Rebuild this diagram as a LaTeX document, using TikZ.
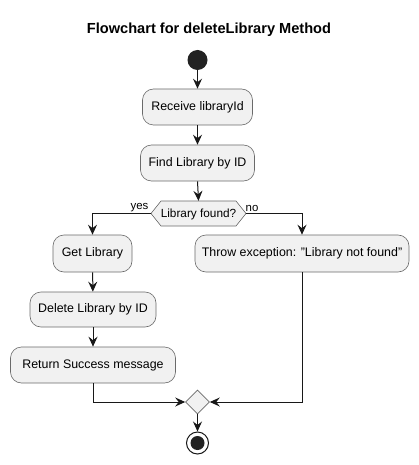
\documentclass[tikz,border=0pt]{standalone}
\usepackage{fontspec}
\setmainfont{Liberation Sans}
\usetikzlibrary{arrows.meta,shapes.geometric,calc}
\definecolor{boxfill}{HTML}{F1F1F1}
\definecolor{boxline}{HTML}{6A6A6A}
\definecolor{ink}{HTML}{181818}
\definecolor{dot}{HTML}{222222}
\begin{document}
\begin{tikzpicture}[x=1pt,y=-1pt,
  actbox/.style={draw=boxline,fill=boxfill,line width=0.6pt,rounded corners=11pt,
    inner sep=0pt,font=\fontsize{12.4}{14}\selectfont,text=black},
  flow/.style={draw=ink,line width=1pt,-{Stealth[length=10pt,width=9pt,inset=3.5pt]}},
  lbl/.style={font=\fontsize{11.4}{13}\selectfont,inner sep=1pt}]
\useasboundingbox[fill=white] (0,0) rectangle (419,465);
\node[font=\bfseries\fontsize{14.6}{16}\selectfont] (title) at (209,30) {Flowchart for deleteLibrary Method};
\node[circle,fill=dot,minimum size=20pt,inner sep=0pt] (start) at (197.5,60) {};
\node[actbox,minimum width=110pt,minimum height=36pt] (recv) at (197.5,107) {Receive libraryId};
\node[actbox,minimum width=114pt,minimum height=36pt] (find) at (197.5,163) {Find Library by ID};
% decision hexagon
\node[inner sep=0pt,minimum width=95pt,minimum height=25pt] (dec) at (198.5,213.5) {};
\fill[boxfill] (151,213.5) -- (161,201) -- (236,201) -- (246,213.5) -- (236,226) -- (161,226) -- cycle;
\draw[boxline,line width=0.6pt] (151,213.5) -- (161,201) -- (236,201) -- (246,213.5) -- (236,226) -- (161,226) -- cycle;
\node[inner sep=0pt,font=\fontsize{11.8}{13}\selectfont] (dectext) at (198.5,214) {Library found?};
\coordinate (decL) at (151,213.5);
\coordinate (decR) at (246,213.5);
\node[actbox,minimum width=79pt,minimum height=37pt] (get) at (92.5,253.5) {Get Library};
\node[actbox,minimum width=214pt,minimum height=37pt] (thr) at (302,253.5) {Throw exception: "Library not found"};
\node[actbox,minimum width=126pt,minimum height=35pt] (del) at (93,309.5) {Delete Library by ID};
\node[actbox,minimum width=165pt,minimum height=36pt] (ret) at (93,365) {Return Success message};
\node[diamond,draw=boxline,fill=boxfill,line width=0.6pt,minimum width=24pt,minimum height=24pt,inner sep=0pt] (merge) at (197.5,402) {};
\node[circle,draw=ink,fill=white,line width=1pt,minimum size=22pt,inner sep=0pt] (stop) at (197.5,443) {};
\node[circle,fill=dot,minimum size=14pt,inner sep=0pt] (stopdot) at (197.5,443) {};
% connectors
\draw[flow] (start) -- (recv);
\draw[flow] (recv) -- (find);
\draw[flow] (find.south) -- (dec.north);
\draw[flow] (decL) -| (get.north);
\draw[flow] (decR) -| (thr.north);
\node[lbl,anchor=south east] (yes) at (149.5,213) {yes};
\node[lbl,anchor=south west] (no) at (244.5,213) {no};
\draw[flow] (get) -- (del);
\draw[flow] (del) -- (ret);
\draw[flow] (ret.south) |- (merge.west);
\draw[flow] (thr.south) |- (merge.east);
\draw[flow] (merge.south) -- (stop.north);
\end{tikzpicture}
\end{document}
